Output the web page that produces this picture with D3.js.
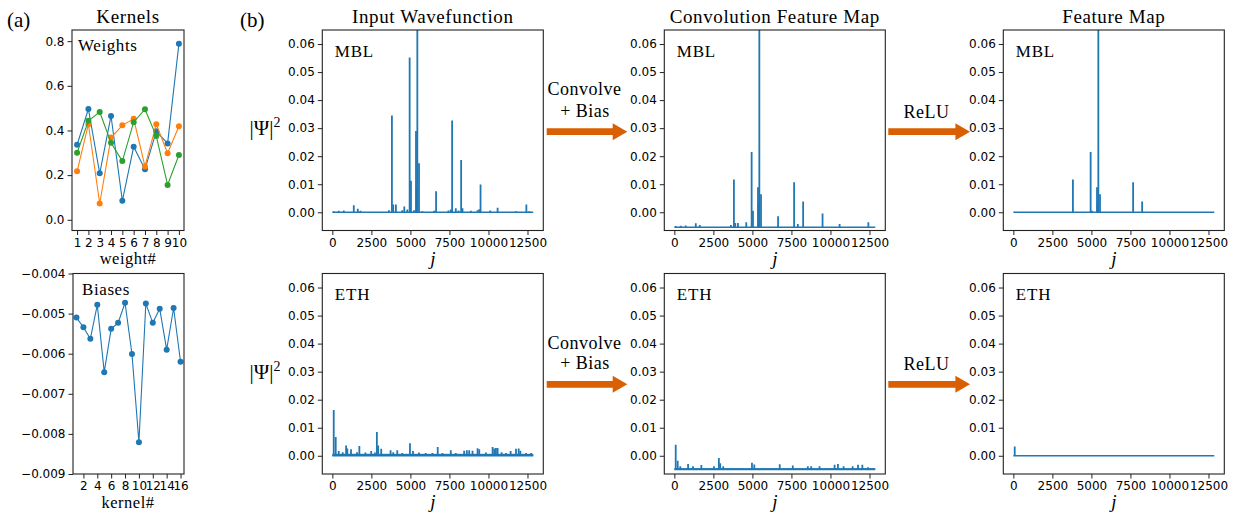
<!DOCTYPE html>
<html>
<head>
<meta charset="utf-8">
<script src="https://cdn.jsdelivr.net/npm/d3@7"></script>
<style>
body { margin: 0; background: #fff; }
</style>
</head>
<body>
<div id="plot"></div>
<script>

// (a) kernels: three weight kernels and the 16 biases
var weightIndex = [1, 2, 3, 4, 5, 6, 7, 8, 9, 10];
var kernelBlue   = [0.336, 0.496, 0.208, 0.465, 0.085, 0.327, 0.226, 0.396, 0.342, 0.788];
var kernelOrange = [0.217, 0.428, 0.073, 0.368, 0.423, 0.452, 0.239, 0.428, 0.298, 0.419];
var kernelGreen  = [0.300, 0.443, 0.483, 0.345, 0.263, 0.437, 0.495, 0.375, 0.156, 0.290];

var kernelIndex = [1, 2, 3, 4, 5, 6, 7, 8, 9, 10, 11, 12, 13, 14, 15, 16];
var biases = [-0.00510, -0.00534, -0.00563, -0.00478, -0.00646, -0.00538, -0.00523, -0.00473,
              -0.00601, -0.00821, -0.00475, -0.00523, -0.00488, -0.00590, -0.00486, -0.00620];

// (b) wavefunctions, j = 0 .. 12869, spikes as [j, value]
var jMax = 12869;

var mblInputBase = 0;
var mblInputSpikes = [
    [88, 0.0004], [409, 0.0005], [731, 0.0006], [1373, 0.0025], [1630, 0.0013], [1800, 0.0005],
    [3623, 0.0007], [3816, 0.0345], [3900, 0.0028], [4071, 0.0028], [4478, 0.0007], [4607, 0.0021],
    [4800, 0.0010], [4951, 0.0552], [5036, 0.0112], [5230, 0.0007], [5358, 0.0290], [5400, 0.0090],
    [5444, 0.0900], [5551, 0.0175], [5765, 0.0004], [6515, 0.0005], [6644, 0.0075], [7437, 0.0006],
    [7587, 0.0010], [7672, 0.0327], [7908, 0.0014], [8079, 0.0006], [8250, 0.0186], [8336, 0.0014],
    [8872, 0.0005], [9301, 0.0007], [9409, 0.0011], [9493, 0.0099], [10114, 0.0006], [10586, 0.0016],
    [11764, 0.0004], [12428, 0.0028], [12620, 0.0004]
];

var mblConvBase = -0.0053;
var mblConvSpikes = [
    [88, -0.0049], [409, -0.0048], [731, -0.0047], [1373, -0.0039], [1630, -0.0045], [3623, -0.0045],
    [3816, 0.0117], [3900, -0.0038], [4071, -0.0038], [4607, -0.0036], [4951, 0.0215], [5036, 0.0005],
    [5358, 0.0089], [5400, 0.0030], [5444, 0.0900], [5551, 0.0064], [6644, -0.0014], [7672, 0.0107],
    [7908, -0.0042], [8250, 0.0038], [9493, -0.0004], [10586, -0.0042], [12428, -0.0036]
];

var mblFeatureBase = 0;
var mblFeatureSpikes = [
    [3816, 0.0117], [4951, 0.0215], [5036, 0.0005], [5358, 0.0089], [5400, 0.0030], [5444, 0.0900],
    [5551, 0.0064], [7672, 0.0107], [8250, 0.0038]
];

var ethInputBase = 0;
var ethInputFloor = 0.0007;
var ethInputSpikes = [
    [88, 0.0163], [216, 0.0067], [409, 0.0017], [665, 0.0013], [880, 0.0037], [960, 0.0026],
    [1195, 0.0023], [1580, 0.0013], [1730, 0.0035], [2120, 0.0012], [2490, 0.0017], [2724, 0.0012],
    [2852, 0.0085], [2937, 0.0037], [3130, 0.0025], [3730, 0.0020], [3900, 0.0013], [4157, 0.0020],
    [4478, 0.0010], [4972, 0.0045], [5165, 0.0017], [5551, 0.0012], [5980, 0.0010], [6408, 0.0010],
    [6750, 0.0031], [7051, 0.0010], [7587, 0.0020], [7908, 0.0010], [8443, 0.0018], [8615, 0.0020],
    [8765, 0.0020], [8979, 0.0018], [9301, 0.0027], [9409, 0.0023], [9837, 0.0012], [10265, 0.0031],
    [10372, 0.0026], [10479, 0.0028], [10586, 0.0028], [10843, 0.0013], [11121, 0.0010], [11421, 0.0017],
    [11764, 0.0025], [11935, 0.0026], [12042, 0.0018], [12407, 0.0010], [12728, 0.0010]
];

var ethConvBase = -0.0049;
var ethConvFloor = -0.0044;
var ethConvSpikes = [
    [88, 0.0039], [216, -0.0018], [380, -0.0037], [880, -0.0029], [1195, -0.0037], [1730, -0.0033],
    [2540, -0.0037], [2852, -0.0008], [2937, -0.0027], [3130, -0.0037], [4972, -0.0025], [5120, -0.0031],
    [6750, -0.0030], [7587, -0.0035], [8550, -0.0037], [8765, -0.0037], [9301, -0.0037], [10265, -0.0032],
    [10479, -0.0029], [10843, -0.0037], [11421, -0.0037], [11764, -0.0032], [12042, -0.0032], [12407, -0.0041]
];

var ethFeatureBase = 0;
var ethFeatureSpikes = [[88, 0.0033]];

var waveXTicks = [0, 2500, 5000, 7500, 10000, 12500];
var waveYTicks = [0, 0.01, 0.02, 0.03, 0.04, 0.05, 0.06];
var weightYTicks = [0, 0.2, 0.4, 0.6, 0.8];
var biasXTicks = [2, 4, 6, 8, 10, 12, 14, 16];
var biasYTicks = [-0.004, -0.005, -0.006, -0.007, -0.008, -0.009];

var columnTitles = ["Input Wavefunction", "Convolution Feature Map", "Feature Map"];

var blue = "#1f77b4";
var orange = "#ff7f0e";
var green = "#2ca02c";
var arrowColor = "#d95f02";
var serif = '"Liberation Serif", "DejaVu Serif", serif';
var sans = '"DejaVu Sans", sans-serif';

var clipCount = 0;

window.onload = function(){
    buildChart();
};

function makePanel(svg, box, xDomain, yDomain){

    var x = d3.scaleLinear().domain(xDomain).range([box.left, box.left + box.width]);
    var y = d3.scaleLinear().domain(yDomain).range([box.top + box.height, box.top]);

    var id = "clip" + (clipCount++);
    svg.append("clipPath").attr("id", id)
        .append("rect")
        .attr("x", box.left).attr("y", box.top)
        .attr("width", box.width).attr("height", box.height);

    var plot = svg.append("g").attr("clip-path", "url(#" + id + ")");

    return {x: x, y: y, box: box, plot: plot};
}

function finishPanel(svg, p, xTicks, xFormat, yTicks, yFormat){

    var bottom = p.box.top + p.box.height;

    var xAxis = svg.append("g")
        .attr("transform", "translate(0," + bottom + ")")
        .call(d3.axisBottom(p.x).tickValues(xTicks).tickFormat(xFormat).tickSize(4.5).tickPadding(3));

    var yAxis = svg.append("g")
        .attr("transform", "translate(" + p.box.left + ",0)")
        .call(d3.axisLeft(p.y).tickValues(yTicks).tickFormat(yFormat).tickSize(4.5).tickPadding(3));

    [xAxis, yAxis].forEach(a => {
        a.select(".domain").remove();
        a.attr("font-family", sans).attr("font-size", 12);
        a.selectAll("line").attr("stroke", "#222").attr("stroke-width", 1);
        a.selectAll("text").attr("fill", "#000");
    });

    svg.append("rect")
        .attr("x", p.box.left).attr("y", p.box.top)
        .attr("width", p.box.width).attr("height", p.box.height)
        .attr("fill", "none").attr("stroke", "#222").attr("stroke-width", 1.1);
}

function drawWave(p, spikes, base, floor){

    if(floor !== undefined){
        p.plot.append("rect")
            .attr("x", p.x(0))
            .attr("width", p.x(jMax) - p.x(0))
            .attr("y", p.y(Math.max(base, floor)))
            .attr("height", Math.abs(p.y(base) - p.y(floor)))
            .attr("fill", blue);
    }

    p.plot.append("line")
        .attr("x1", p.x(0)).attr("x2", p.x(jMax))
        .attr("y1", p.y(base)).attr("y2", p.y(base))
        .attr("stroke", blue).attr("stroke-width", 1.5);

    p.plot.selectAll(null)
        .data(spikes)
        .enter()
        .append("line")
        .attr("x1", d => p.x(d[0])).attr("x2", d => p.x(d[0]))
        .attr("y1", p.y(base)).attr("y2", d => p.y(d[1]))
        .attr("stroke", blue).attr("stroke-width", 1.8);
}

function drawKernel(p, xs, ys, color){

    var pts = xs.map((d, i) => [d, ys[i]]);

    p.plot.append("path")
        .attr("d", d3.line().x(d => p.x(d[0])).y(d => p.y(d[1]))(pts))
        .attr("fill", "none").attr("stroke", color).attr("stroke-width", 1.1);

    p.plot.selectAll(null)
        .data(pts)
        .enter()
        .append("circle")
        .attr("cx", d => p.x(d[0])).attr("cy", d => p.y(d[1]))
        .attr("r", 3)
        .attr("fill", color);
}

function addText(svg, x, y, str, size, anchor, spacing){
    return svg.append("text")
        .attr("x", x).attr("y", y)
        .attr("font-family", serif).attr("font-size", size)
        .attr("text-anchor", anchor || "start")
        .attr("letter-spacing", spacing || 0)
        .text(str);
}

function arrow(svg, x0, x1, yc){
    var shaft = 3.4, head = 8.5, headLen = 14.6;
    var pts = [
        [x0, yc - shaft], [x1 - headLen, yc - shaft], [x1 - headLen, yc - head], [x1, yc],
        [x1 - headLen, yc + head], [x1 - headLen, yc + shaft], [x0, yc + shaft]
    ];
    svg.append("polygon")
        .attr("points", pts.map(d => d.join(",")).join(" "))
        .attr("fill", arrowColor);
}

function buildChart(){

    var width = 1237, height = 514;

    var svg = d3.select("#plot")
        .append("svg")
        .attr("width", width)
        .attr("height", height);

    var rowTops = [30, 273.5];
    var rowHeight = 200.5;
    var colLefts = [322.3, 664.3, 1003.3];
    var colWidth = 221;

    // ---- (a) kernels
    var wp = makePanel(svg, {left: 72, top: rowTops[0], width: 112, height: rowHeight}, [0.55, 10.45], [-0.048, 0.85]);
    drawKernel(wp, weightIndex, kernelBlue, blue);
    drawKernel(wp, weightIndex, kernelOrange, orange);
    drawKernel(wp, weightIndex, kernelGreen, green);
    finishPanel(svg, wp, weightIndex, d3.format("d"), weightYTicks, d3.format(".1f"));

    var bp = makePanel(svg, {left: 73, top: rowTops[1], width: 111, height: rowHeight}, [0.5, 16.5], [-0.009, -0.004]);
    drawKernel(bp, kernelIndex, biases, blue);
    finishPanel(svg, bp, biasXTicks, d3.format("d"), biasYTicks, d => d3.format(".3f")(d).replace("-", "\u2212"));

    addText(svg, 7, 27, "(a)", 21);
    addText(svg, 128, 22.5, "Kernels", 19, "middle", 0.6);
    addText(svg, 78, 51, "Weights", 17, "start", 0.6);
    addText(svg, 82, 295, "Biases", 17, "start", 0.6);
    addText(svg, 128, 264, "weight#", 16.5, "middle", 0.5);
    addText(svg, 128, 508, "kernel#", 16.5, "middle", 0.5);

    // ---- (b) wavefunction panels
    var waveData = [
        [[mblInputSpikes, mblInputBase], [mblConvSpikes, mblConvBase], [mblFeatureSpikes, mblFeatureBase]],
        [[ethInputSpikes, ethInputBase, ethInputFloor], [ethConvSpikes, ethConvBase, ethConvFloor], [ethFeatureSpikes, ethFeatureBase]]
    ];
    var rowLabels = ["MBL", "ETH"];

    rowTops.forEach((top, r) => {
        colLefts.forEach((left, c) => {
            var p = makePanel(svg, {left: left, top: top, width: colWidth, height: rowHeight},
                [-0.05 * jMax, 1.05 * jMax], [-0.0065, 0.065]);
            var w = waveData[r][c];
            drawWave(p, w[0], w[1], w[2]);
            finishPanel(svg, p, waveXTicks, d3.format("d"), waveYTicks, d3.format(".2f"));

            addText(svg, left + 12.5, top + 26.5, rowLabels[r], 17, "start", 0.8);

            var j = addText(svg, left + colWidth / 2, top + rowHeight + 34, "j", 19, "middle");
            j.attr("font-style", "italic");

            if(r == 0){
                addText(svg, left + colWidth / 2, 23, columnTitles[c], 19, "middle", 0.6);
            }
        });

        // |Psi|^2 label
        var lab = svg.append("text")
            .attr("x", 265).attr("y", top + rowHeight / 2 + 5)
            .attr("font-family", serif).attr("font-size", 21)
            .attr("text-anchor", "middle");
        lab.append("tspan").text("|\u03A8|");
        lab.append("tspan").attr("font-size", 14).attr("dy", -8).text("2");

        var ay = top + (r == 0 ? 101.7 : 110.8);
        arrow(svg, 546.7, 627.3, ay);
        arrow(svg, 888.3, 970, ay);

        addText(svg, 584.5, ay - 36.7 - (r == 0 ? 0 : -1), "Convolve", 18, "middle", 0.5);
        addText(svg, 585, ay - 15, "+ Bias", 18, "middle", 0.5);
        addText(svg, 926.5, ay - 14, "ReLU", 18, "middle", 0.5);
    });

    addText(svg, 240, 27, "(b)", 21);
}

</script>
</body>
</html>
